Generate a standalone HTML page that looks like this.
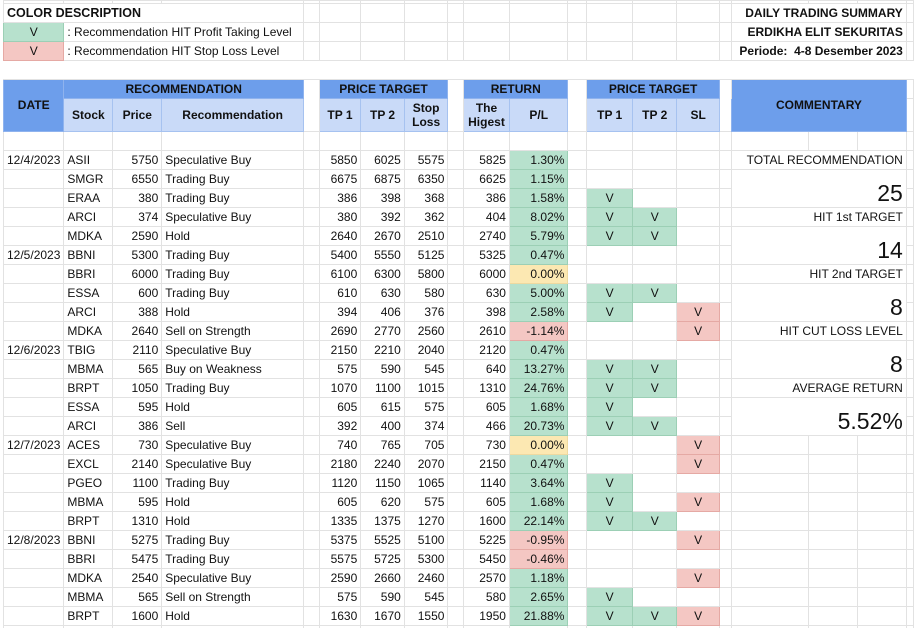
<!DOCTYPE html>
<html><head><meta charset="utf-8">
<style>
html,body{margin:0;padding:0;background:#fff;width:914px;height:628px;overflow:hidden}
table{border-collapse:collapse;table-layout:fixed;font-family:"Liberation Sans",Arial,sans-serif;font-size:12px;color:#111;margin-left:3px}
td{border:1px solid #e2e2e2;padding:0 3px;height:18px;line-height:17px;white-space:nowrap;overflow:visible;vertical-align:bottom}
tr.t td{height:2px;line-height:0;font-size:0;padding:0}
.r{text-align:right}.c{text-align:center}.b{font-weight:bold}
.h1{background:#6d9eeb;border-color:#8fb3ee;font-weight:bold;text-align:center;vertical-align:middle;font-size:12px}
.h2{background:#c9daf8;border-color:#a6c2f0;font-weight:bold;text-align:center;vertical-align:middle;line-height:14px}
.g{background:#b7e1cd;border-color:#9ccfb5}
.rd{background:#f4c7c3;border-color:#e5a9a4}
.y{background:#fce8b2;border-color:#eed9a0}
.n{border-top:none;border-bottom:none}
.big{font-size:23px;text-align:right;vertical-align:bottom;line-height:26px;padding-bottom:1px}
.cm{text-align:right;border-left-color:#e2e2e2}
</style></head><body>
<table>
<colgroup><col style="width:60px"><col style="width:49px"><col style="width:49px"><col style="width:142px"><col style="width:16px"><col style="width:42px"><col style="width:44px"><col style="width:44px"><col style="width:16px"><col style="width:46px"><col style="width:59px"><col style="width:19px"><col style="width:47px"><col style="width:44px"><col style="width:44px"><col style="width:12px"><col style="width:77px"><col style="width:49px"><col style="width:49px"><col style="width:3px"></colgroup>
<tr class="t"><td></td><td></td><td></td><td></td><td></td><td></td><td></td><td></td><td></td><td></td><td></td><td></td><td></td><td></td><td></td><td></td><td></td><td></td><td></td><td></td></tr>
<tr><td colspan="4" class="b" style="font-size:12.5px">COLOR DESCRIPTION</td><td></td><td></td><td></td><td></td><td></td><td></td><td></td><td></td><td></td><td></td><td></td><td></td><td colspan="3" class="r b">DAILY TRADING SUMMARY</td><td></td></tr>
<tr><td class="g c">V</td><td colspan="3">: Recommendation HIT Profit Taking Level</td><td></td><td></td><td></td><td></td><td></td><td></td><td></td><td></td><td></td><td></td><td></td><td></td><td colspan="3" class="r b">ERDIKHA ELIT SEKURITAS</td><td></td></tr>
<tr><td class="rd c">V</td><td colspan="3">: Recommendation HIT Stop Loss Level</td><td></td><td></td><td></td><td></td><td></td><td></td><td></td><td></td><td></td><td></td><td></td><td></td><td colspan="3" class="r b">Periode:&nbsp; 4-8 Desember 2023</td><td></td></tr>
<tr><td style="border-left:none;border-right:none"></td><td colspan="19" style="border-left:none;border-right:none"></td></tr>
<tr><td rowspan="2" class="h1">DATE</td><td colspan="3" class="h1">RECOMMENDATION</td><td class="n"></td><td colspan="3" class="h1">PRICE TARGET</td><td class="n"></td><td colspan="2" class="h1">RETURN</td><td class="n"></td><td colspan="3" class="h1">PRICE TARGET</td><td class="n"></td><td colspan="3" rowspan="2" class="h1">COMMENTARY</td><td></td></tr>
<tr style="height:33px"><td class="h2" style="height:32px">Stock</td><td class="h2">Price</td><td class="h2">Recommendation</td><td class="n"></td><td class="h2">TP 1</td><td class="h2">TP 2</td><td class="h2">Stop<br>Loss</td><td class="n"></td><td class="h2">The<br>Higest</td><td class="h2">P/L</td><td class="n"></td><td class="h2">TP 1</td><td class="h2">TP 2</td><td class="h2">SL</td><td class="n"></td><td></td></tr>
<tr><td></td><td></td><td></td><td></td><td></td><td></td><td></td><td></td><td></td><td></td><td></td><td></td><td></td><td></td><td></td><td></td><td></td><td></td><td></td><td></td></tr>

<tr><td>12/4/2023</td><td>ASII</td><td class="r">5750</td><td>Speculative Buy</td><td></td><td class="r">5850</td><td class="r">6025</td><td class="r">5575</td><td></td><td class="r">5825</td><td class="r g">1.30%</td><td></td><td></td><td></td><td></td><td></td><td colspan="3" class="cm">TOTAL RECOMMENDATION</td><td></td></tr>
<tr><td></td><td>SMGR</td><td class="r">6550</td><td>Trading Buy</td><td></td><td class="r">6675</td><td class="r">6875</td><td class="r">6350</td><td></td><td class="r">6625</td><td class="r g">1.15%</td><td></td><td></td><td></td><td></td><td></td><td colspan="3" rowspan="2" class="big">25</td><td></td></tr>
<tr><td></td><td>ERAA</td><td class="r">380</td><td>Trading Buy</td><td></td><td class="r">386</td><td class="r">398</td><td class="r">368</td><td></td><td class="r">386</td><td class="r g">1.58%</td><td></td><td class="g c">V</td><td></td><td></td><td></td><td></td></tr>
<tr><td></td><td>ARCI</td><td class="r">374</td><td>Speculative Buy</td><td></td><td class="r">380</td><td class="r">392</td><td class="r">362</td><td></td><td class="r">404</td><td class="r g">8.02%</td><td></td><td class="g c">V</td><td class="g c">V</td><td></td><td></td><td colspan="3" class="cm">HIT 1st TARGET</td><td></td></tr>
<tr><td></td><td>MDKA</td><td class="r">2590</td><td>Hold</td><td></td><td class="r">2640</td><td class="r">2670</td><td class="r">2510</td><td></td><td class="r">2740</td><td class="r g">5.79%</td><td></td><td class="g c">V</td><td class="g c">V</td><td></td><td></td><td colspan="3" rowspan="2" class="big">14</td><td></td></tr>
<tr><td>12/5/2023</td><td>BBNI</td><td class="r">5300</td><td>Trading Buy</td><td></td><td class="r">5400</td><td class="r">5550</td><td class="r">5125</td><td></td><td class="r">5325</td><td class="r g">0.47%</td><td></td><td></td><td></td><td></td><td></td><td></td></tr>
<tr><td></td><td>BBRI</td><td class="r">6000</td><td>Trading Buy</td><td></td><td class="r">6100</td><td class="r">6300</td><td class="r">5800</td><td></td><td class="r">6000</td><td class="r y">0.00%</td><td></td><td></td><td></td><td></td><td></td><td colspan="3" class="cm">HIT 2nd TARGET</td><td></td></tr>
<tr><td></td><td>ESSA</td><td class="r">600</td><td>Trading Buy</td><td></td><td class="r">610</td><td class="r">630</td><td class="r">580</td><td></td><td class="r">630</td><td class="r g">5.00%</td><td></td><td class="g c">V</td><td class="g c">V</td><td></td><td></td><td colspan="3" rowspan="2" class="big">8</td><td></td></tr>
<tr><td></td><td>ARCI</td><td class="r">388</td><td>Hold</td><td></td><td class="r">394</td><td class="r">406</td><td class="r">376</td><td></td><td class="r">398</td><td class="r g">2.58%</td><td></td><td class="g c">V</td><td></td><td class="rd c">V</td><td></td><td></td></tr>
<tr><td></td><td>MDKA</td><td class="r">2640</td><td>Sell on Strength</td><td></td><td class="r">2690</td><td class="r">2770</td><td class="r">2560</td><td></td><td class="r">2610</td><td class="r rd">-1.14%</td><td></td><td></td><td></td><td class="rd c">V</td><td></td><td colspan="3" class="cm">HIT CUT LOSS LEVEL</td><td></td></tr>
<tr><td>12/6/2023</td><td>TBIG</td><td class="r">2110</td><td>Speculative Buy</td><td></td><td class="r">2150</td><td class="r">2210</td><td class="r">2040</td><td></td><td class="r">2120</td><td class="r g">0.47%</td><td></td><td></td><td></td><td></td><td></td><td colspan="3" rowspan="2" class="big">8</td><td></td></tr>
<tr><td></td><td>MBMA</td><td class="r">565</td><td>Buy on Weakness</td><td></td><td class="r">575</td><td class="r">590</td><td class="r">545</td><td></td><td class="r">640</td><td class="r g">13.27%</td><td></td><td class="g c">V</td><td class="g c">V</td><td></td><td></td><td></td></tr>
<tr><td></td><td>BRPT</td><td class="r">1050</td><td>Trading Buy</td><td></td><td class="r">1070</td><td class="r">1100</td><td class="r">1015</td><td></td><td class="r">1310</td><td class="r g">24.76%</td><td></td><td class="g c">V</td><td class="g c">V</td><td></td><td></td><td colspan="3" class="cm">AVERAGE RETURN</td><td></td></tr>
<tr><td></td><td>ESSA</td><td class="r">595</td><td>Hold</td><td></td><td class="r">605</td><td class="r">615</td><td class="r">575</td><td></td><td class="r">605</td><td class="r g">1.68%</td><td></td><td class="g c">V</td><td></td><td></td><td></td><td colspan="3" rowspan="2" class="big">5.52%</td><td></td></tr>
<tr><td></td><td>ARCI</td><td class="r">386</td><td>Sell</td><td></td><td class="r">392</td><td class="r">400</td><td class="r">374</td><td></td><td class="r">466</td><td class="r g">20.73%</td><td></td><td class="g c">V</td><td class="g c">V</td><td></td><td></td><td></td></tr>
<tr><td>12/7/2023</td><td>ACES</td><td class="r">730</td><td>Speculative Buy</td><td></td><td class="r">740</td><td class="r">765</td><td class="r">705</td><td></td><td class="r">730</td><td class="r y">0.00%</td><td></td><td></td><td></td><td class="rd c">V</td><td></td><td></td><td></td><td></td><td></td></tr>
<tr><td></td><td>EXCL</td><td class="r">2140</td><td>Speculative Buy</td><td></td><td class="r">2180</td><td class="r">2240</td><td class="r">2070</td><td></td><td class="r">2150</td><td class="r g">0.47%</td><td></td><td></td><td></td><td class="rd c">V</td><td></td><td></td><td></td><td></td><td></td></tr>
<tr><td></td><td>PGEO</td><td class="r">1100</td><td>Trading Buy</td><td></td><td class="r">1120</td><td class="r">1150</td><td class="r">1065</td><td></td><td class="r">1140</td><td class="r g">3.64%</td><td></td><td class="g c">V</td><td></td><td></td><td></td><td></td><td></td><td></td><td></td></tr>
<tr><td></td><td>MBMA</td><td class="r">595</td><td>Hold</td><td></td><td class="r">605</td><td class="r">620</td><td class="r">575</td><td></td><td class="r">605</td><td class="r g">1.68%</td><td></td><td class="g c">V</td><td></td><td class="rd c">V</td><td></td><td></td><td></td><td></td><td></td></tr>
<tr><td></td><td>BRPT</td><td class="r">1310</td><td>Hold</td><td></td><td class="r">1335</td><td class="r">1375</td><td class="r">1270</td><td></td><td class="r">1600</td><td class="r g">22.14%</td><td></td><td class="g c">V</td><td class="g c">V</td><td></td><td></td><td></td><td></td><td></td><td></td></tr>
<tr><td>12/8/2023</td><td>BBNI</td><td class="r">5275</td><td>Trading Buy</td><td></td><td class="r">5375</td><td class="r">5525</td><td class="r">5100</td><td></td><td class="r">5225</td><td class="r rd">-0.95%</td><td></td><td></td><td></td><td class="rd c">V</td><td></td><td></td><td></td><td></td><td></td></tr>
<tr><td></td><td>BBRI</td><td class="r">5475</td><td>Trading Buy</td><td></td><td class="r">5575</td><td class="r">5725</td><td class="r">5300</td><td></td><td class="r">5450</td><td class="r rd">-0.46%</td><td></td><td></td><td></td><td></td><td></td><td></td><td></td><td></td><td></td></tr>
<tr><td></td><td>MDKA</td><td class="r">2540</td><td>Speculative Buy</td><td></td><td class="r">2590</td><td class="r">2660</td><td class="r">2460</td><td></td><td class="r">2570</td><td class="r g">1.18%</td><td></td><td></td><td></td><td class="rd c">V</td><td></td><td></td><td></td><td></td><td></td></tr>
<tr><td></td><td>MBMA</td><td class="r">565</td><td>Sell on Strength</td><td></td><td class="r">575</td><td class="r">590</td><td class="r">545</td><td></td><td class="r">580</td><td class="r g">2.65%</td><td></td><td class="g c">V</td><td></td><td></td><td></td><td></td><td></td><td></td><td></td></tr>
<tr><td></td><td>BRPT</td><td class="r">1600</td><td>Hold</td><td></td><td class="r">1630</td><td class="r">1670</td><td class="r">1550</td><td></td><td class="r">1950</td><td class="r g">21.88%</td><td></td><td class="g c">V</td><td class="g c">V</td><td class="rd c">V</td><td></td><td></td><td></td><td></td><td></td></tr>
<tr><td></td><td></td><td></td><td></td><td></td><td></td><td></td><td></td><td></td><td></td><td></td><td></td><td></td><td></td><td></td><td></td><td></td><td></td><td></td><td></td></tr>
</table>
</body></html>
